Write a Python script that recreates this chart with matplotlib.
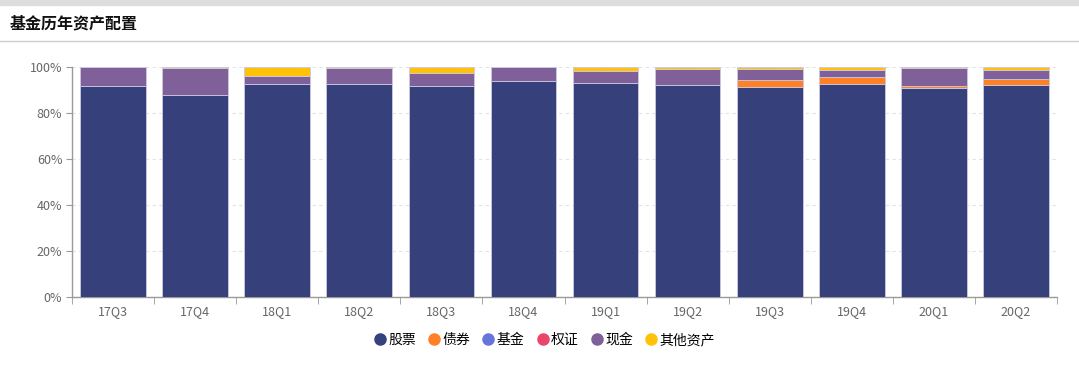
import matplotlib
matplotlib.use("Agg")
import matplotlib.pyplot as plt
from matplotlib.lines import Line2D
import numpy as np

plt.rcParams['font.family'] = ['Noto Sans CJK SC', 'DejaVu Sans']

categories = ["17Q3", "17Q4", "18Q1", "18Q2", "18Q3", "18Q4",
              "19Q1", "19Q2", "19Q3", "19Q4", "20Q1", "20Q2"]
stocks = [91.9, 87.8, 92.8, 92.6, 91.6, 93.8, 93.0, 92.3, 91.4, 92.6, 90.7, 92.3]
bonds = [0.0, 0.0, 0.0, 0.0, 0.0, 0.0, 0.0, 0.0, 3.1, 3.1, 1.2, 2.3]
funds = [0.0] * 12
warrants = [0.0] * 12
cash = [8.0, 11.8, 3.4, 6.8, 5.9, 6.1, 5.3, 6.7, 4.8, 3.1, 7.7, 4.2]
others = [0.1, 0.4, 3.8, 0.6, 2.5, 0.1, 1.7, 1.0, 0.7, 1.2, 0.4, 1.2]

series_names = ["股票", "债券", "基金", "权证", "现金", "其他资产"]
series_vals = [stocks, bonds, funds, warrants, cash, others]
colors = ["#36417c", "#ff8126", "#6675da", "#e9466a", "#7f6099", "#ffc208"]

fig = plt.figure(figsize=(10.79, 3.70), dpi=100)

# top grey band and title
fig.patches.append(plt.Rectangle((0, 1 - 5 / 370), 1, 5 / 370, transform=fig.transFigure,
                                 color="#dddddd", zorder=0))
fig.text(10 / 1079, 1 - 23 / 370, "基金历年资产配置", fontsize=11.5, fontweight="bold",
         color="#111111", va="center", ha="left")
fig.add_artist(Line2D([0, 1], [1 - 41 / 370, 1 - 41 / 370], transform=fig.transFigure,
                      color="#cccccc", lw=1))

ax = fig.add_axes([72 / 1079, 1 - 297 / 370, (1057 - 72) / 1079, (297 - 67) / 370])
x = np.arange(len(categories))
bottom = np.zeros(len(categories))
for name, vals, c in zip(series_names, series_vals, colors):
    v = np.array(vals)
    lw = np.where(v > 0, 0.6, 0.0)
    ax.bar(x, v, bottom=bottom, width=0.8, color=c, edgecolor="#cdc8e0", linewidth=lw,
           label=name, zorder=3)
    bottom += v

ax.set_xlim(-0.5, len(categories) - 0.5)
ax.set_ylim(0, 100)
ax.set_yticks([0, 20, 40, 60, 80, 100])
ax.set_yticklabels([f"{v}%" for v in [0, 20, 40, 60, 80, 100]])
ax.set_xticks(x)
ax.set_xticklabels(categories)
ax.set_xticks(np.arange(-0.5, len(categories)), minor=True)
ax.tick_params(axis="x", which="major", length=0, pad=6, labelsize=9, labelcolor="#666666")
ax.tick_params(axis="x", which="minor", length=5, color="#999999", direction="out")
ax.tick_params(axis="y", length=4, color="#999999", labelsize=9, labelcolor="#666666", pad=3)
ax.grid(axis="y", linestyle=(0, (3, 3)), color="#e3e3e3", lw=0.8, zorder=0)
for s in ["top", "right"]:
    ax.spines[s].set_visible(False)
for s in ["left", "bottom"]:
    ax.spines[s].set_color("#999999")
    ax.spines[s].set_linewidth(1)

handles = [Line2D([0], [0], marker="o", color="w", markerfacecolor=c, markeredgecolor=c,
                  markersize=8, label=n) for n, c in zip(series_names, colors)]
fig.legend(handles=handles, loc="center", bbox_to_anchor=(544 / 1079, 1 - 340 / 370),
           ncol=6, frameon=False, fontsize=10, handletextpad=0.1, columnspacing=0.8,
           handlelength=1.0)

fig.savefig("out.png", dpi=100)
